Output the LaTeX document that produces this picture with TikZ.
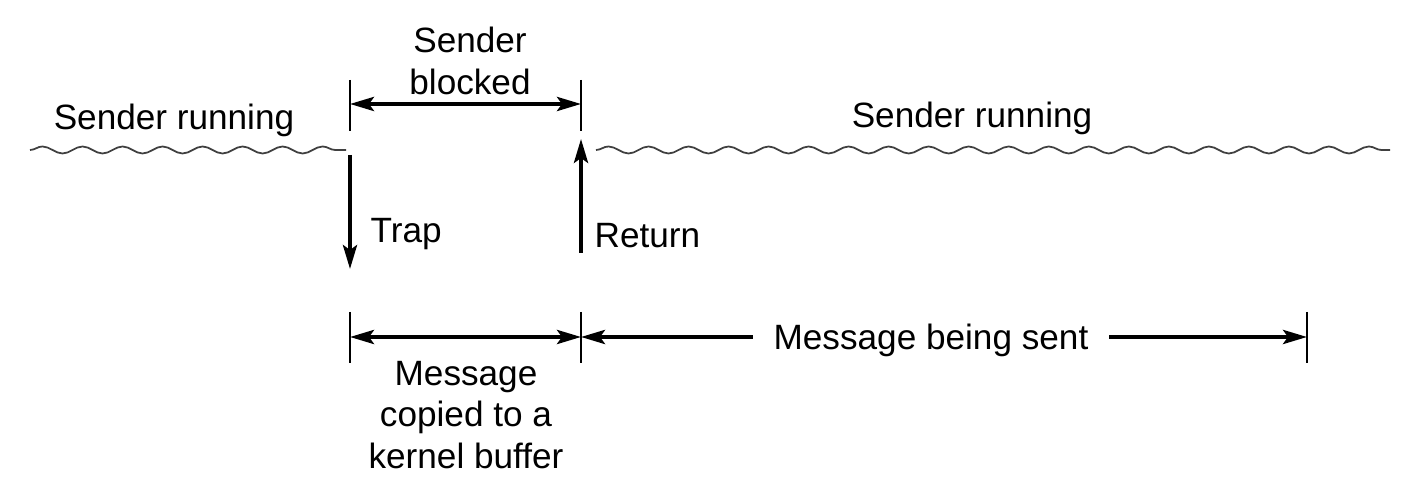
\documentclass[tikz,border=0pt]{standalone}
\usepackage{fontspec}
\setmainfont{Liberation Sans}
\usetikzlibrary{arrows.meta, positioning, decorations.pathmorphing}
\tikzset{%
   % text labels of the timeline
   lbl/.style={
      font=\fontsize{10}{11.7}\selectfont,
      inner sep=0pt,
      align=center
   },
   tick/.style={
      line width=0.45pt
   },
   dim/.style={
      line width=1.1pt,
      {Stealth[length=6.8pt, width=4pt, inset=1.4pt]}-{Stealth[length=6.8pt, width=4pt, inset=1.4pt]}
   },
   onearrow/.style={
      line width=1.1pt,
      -{Stealth[length=6.8pt, width=4pt, inset=1.4pt]}
   },
   wave/.style={
      line width=0.5pt,
      draw=black!75,
      decorate,
      decoration={snake, segment length=0.4cm, amplitude=0.035cm}
   },
}

\begin{document}
\begin{tikzpicture}[x=0.01cm, y=-0.01cm]
  \useasboundingbox (0,0) rectangle (1427,477);

  % top: sender blocked
  \coordinate (tl1) at (350,80);  \coordinate (tl2) at (350,131);
  \coordinate (tr1) at (581,80);  \coordinate (tr2) at (581,131);
  \coordinate (bl) at (350,104);  \coordinate (br) at (581,104);
  \draw[tick] (tl1) -- (tl2)  (tr1) -- (tr2);
  \draw[dim] (bl) -- (br);
  \node[lbl] (blocked) at (470,61) {Sender\\blocked};

  % running lines
  \node[lbl] (runL) at (174,120) {Sender running};
  \node[lbl] (runR) at (972,118) {Sender running};
  \coordinate (wl1) at (30,150);  \coordinate (wl2) at (346,150);
  \coordinate (wr1) at (596,150); \coordinate (wr2) at (1390,150);
  \draw[wave] (wl1) -- (wl2);
  \draw[wave] (wr1) -- (wr2);

  % trap and return
  \coordinate (trap1) at (350,155); \coordinate (trap2) at (350,269);
  \coordinate (ret1) at (581,253);  \coordinate (ret2) at (581,139);
  \draw[onearrow] (trap1) -- (trap2);
  \draw[onearrow] (ret1) -- (ret2);
  \node[lbl, anchor=west] (trap) at (370,234) {Trap};
  \node[lbl, anchor=west] (ret) at (594,236) {Return};

  % bottom: copy and send
  \coordinate (m1) at (350,337); \coordinate (m2) at (581,337);
  \coordinate (m3) at (1307,337);
  \foreach \c in {m1,m2,m3}
     \draw[tick] (\c) ++(0,-25) -- ++(0,51);
  \draw[dim] (m1) -- (m2);
  \node[lbl] (sent) at (931,340) {Message being sent};
  \draw[onearrow] ([xshift=-0.2cm]sent.west |- m2) -- (m2);
  \draw[onearrow] ([xshift=0.2cm]sent.east |- m3) -- (m3);
  \node[lbl] (copied) at (466,415) {Message\\copied to a\\kernel buffer};
\end{tikzpicture}
\end{document}
